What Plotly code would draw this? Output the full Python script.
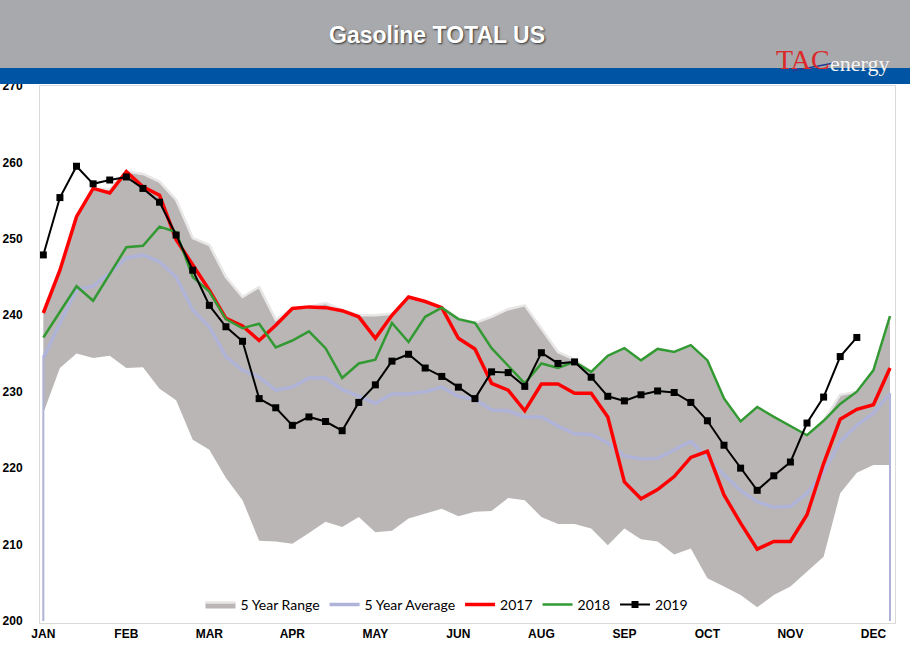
import plotly.graph_objects as go

# ---------------- data ----------------
weeks = list(range(52))
month_ticks = [0, 5, 10, 15, 20, 25, 30, 35, 40, 45, 50]
month_labels = ["JAN", "FEB", "MAR", "APR", "MAY", "JUN", "AUG", "SEP", "OCT", "NOV", "DEC"]
y_ticks = [200, 210, 220, 230, 240, 250, 260, 270]

range_low = [227.2, 233.1, 235.0, 234.4, 234.7, 233.1, 233.2, 230.4, 228.9, 223.7, 222.4, 218.7, 215.8,
             210.5, 210.4, 210.1, 211.5, 213.0, 212.3, 213.6, 211.6, 211.8, 213.4, 214.1, 214.7, 213.7,
             214.3, 214.4, 216.1, 215.8, 213.6, 212.7, 212.7, 212.1, 209.9, 212.1, 210.7, 210.4, 208.7,
             209.5, 205.6, 204.5, 203.4, 201.8, 203.4, 204.5, 206.5, 208.4, 216.7, 219.4, 220.4, 220.4]
range_high = [240.3, 245.9, 252.9, 256.6, 256.5, 258.8, 258.5, 257.5, 255.1, 250.1, 249.2, 245.0, 242.4,
              243.7, 239.4, 240.9, 241.1, 241.6, 240.7, 240.0, 240.0, 240.2, 242.4, 241.8, 241.1, 239.6,
              239.0, 239.8, 240.8, 241.3, 238.3, 235.2, 234.2, 232.6, 234.7, 235.7, 234.1, 235.6, 235.2,
              236.1, 234.1, 229.1, 226.1, 228.0, 226.7, 225.5, 224.3, 226.2, 229.6, 230.0, 232.8, 239.9]
avg5 = [234.4, 239.0, 243.3, 243.8, 245.5, 247.5, 247.9, 247.0, 245.0, 240.7, 238.5, 234.6, 232.8,
        231.9, 230.2, 230.6, 231.8, 231.8, 230.3, 229.4, 228.5, 229.7, 229.7, 230.0, 230.6, 229.4,
        229.0, 227.6, 227.5, 226.7, 226.7, 225.5, 224.5, 224.4, 223.3, 221.6, 221.2, 221.3, 222.4,
        223.5, 221.4, 219.1, 217.1, 215.6, 214.9, 215.0, 216.7, 219.5, 223.5, 225.6, 227.2, 229.8]
y2017 = [240.3, 245.9, 252.9, 256.6, 256.0, 258.8, 256.8, 255.7, 249.9, 246.6, 243.3, 239.6, 238.6,
         236.7, 238.7, 240.9, 241.1, 241.0, 240.6, 239.8, 237.0, 240.0, 242.4, 241.8, 241.0, 237.0,
         235.6, 231.1, 230.2, 227.5, 231.0, 231.0, 229.8, 229.8, 226.7, 218.2, 216.0, 217.2, 218.9,
         221.4, 222.2, 216.5, 212.8, 209.4, 210.4, 210.4, 213.9, 220.6, 226.4, 227.7, 228.3, 233.1]
y2018 = [237.1, 240.5, 243.8, 241.9, 245.4, 248.9, 249.1, 251.6, 250.9, 245.0, 243.1, 239.5, 238.3,
         238.9, 235.8, 236.7, 237.9, 235.7, 231.8, 233.7, 234.2, 239.0, 236.5, 239.8, 241.0, 239.5,
         239.0, 235.7, 233.4, 231.1, 233.7, 233.1, 233.9, 232.6, 234.7, 235.7, 234.1, 235.6, 235.2,
         236.1, 234.1, 229.1, 226.1, 228.0, 226.7, 225.5, 224.3, 226.2, 228.4, 230.0, 232.8, 239.9]
y2019 = [247.9, 255.4, 259.5, 257.2, 257.7, 258.1, 256.6, 254.8, 250.5, 245.9, 241.3, 238.5, 236.6,
         229.1, 227.9, 225.6, 226.7, 226.1, 224.9, 228.6, 230.9, 234.0, 234.9, 233.1, 232.0, 230.6,
         229.1, 232.6, 232.5, 230.7, 235.1, 233.7, 233.9, 231.9, 229.4, 228.8, 229.6, 230.1, 229.9,
         228.6, 226.2, 223.0, 220.0, 217.1, 219.0, 220.8, 225.9, 229.3, 234.6, 237.1]

# ---------------- figure ----------------
W, H = 910, 659
L, R, T, B = 40, 15, 86, 36
pw, ph = W - L - R, H - T - B


def px(x):
    return (x - L) / pw


def py(y):
    return 1 + (T - y) / ph


fig = go.Figure()

RANGE_FILL = "rgb(186,182,182)"
AVG_COLOR = "rgb(176,179,216)"

fig.add_trace(go.Scatter(x=weeks, y=range_low, mode="lines", line=dict(width=0, color=RANGE_FILL),
                         showlegend=False, hoverinfo="skip"))
fig.add_trace(go.Scatter(x=weeks, y=range_high, mode="lines", fill="tonexty", fillcolor=RANGE_FILL,
                         line=dict(width=2.5, color="rgb(232,230,230)"), name="5 Year Range"))
# edge lines of the average down to the axis
fig.add_trace(go.Scatter(x=[weeks[0], weeks[0], None, weeks[-1], weeks[-1]],
                         y=[y_ticks[0], avg5[0], None, y_ticks[0], avg5[-1]],
                         mode="lines", line=dict(width=2, color=AVG_COLOR),
                         showlegend=False, hoverinfo="skip"))
fig.add_trace(go.Scatter(x=weeks, y=avg5, mode="lines", line=dict(width=3.5, color=AVG_COLOR),
                         name="5 Year Average"))
fig.add_trace(go.Scatter(x=weeks, y=y2017, mode="lines", line=dict(width=3.5, color="#FF0000"),
                         name="2017"))
fig.add_trace(go.Scatter(x=weeks, y=y2018, mode="lines", line=dict(width=2.5, color="#339933"),
                         name="2018"))
fig.add_trace(go.Scatter(x=weeks[:len(y2019)], y=y2019, mode="lines+markers",
                         line=dict(width=2, color="#000000"),
                         marker=dict(symbol="square", size=7, color="#000000"), name="2019"))

fig.update_layout(
    width=W, height=H,
    margin=dict(l=L, r=R, t=T, b=B, pad=0, autoexpand=False),
    paper_bgcolor="white", plot_bgcolor="white",
    font=dict(family="Liberation Sans, Arial", color="#000000"),
    showlegend=True,
    legend=dict(orientation="h", x=px(447), y=py(605), xanchor="center", yanchor="middle",
                traceorder="normal",
                bgcolor="rgba(0,0,0,0)", font=dict(family="Lato", size=14, color="#000000"),
                itemwidth=30, tracegroupgap=0),
    xaxis=dict(range=[-0.2, 51.3], tickvals=month_ticks, ticktext=month_labels, automargin=False,
               showgrid=False, zeroline=False, showline=True, mirror=True, linecolor="#D9D9D9",
               linewidth=1, ticks="",
               tickfont=dict(family="Liberation Sans", size=12, color="#000000", weight="bold")),
    yaxis=dict(range=[199.74, 270], tickvals=y_ticks, showgrid=False, zeroline=False, automargin=False,
               showline=True, mirror=True, linecolor="#D9D9D9", linewidth=1, ticks="",
               ticklabelstandoff=14,
               tickfont=dict(family="Liberation Sans", size=12, color="#000000", weight="bold")),
    shapes=[
        dict(type="rect", xref="paper", yref="paper", x0=px(0), x1=px(W), y0=py(68), y1=py(0),
             fillcolor="rgb(167,169,172)", line=dict(width=0), layer="above"),
        dict(type="rect", xref="paper", yref="paper", x0=px(0), x1=px(W), y0=py(84), y1=py(68),
             fillcolor="rgb(0,84,164)", line=dict(width=0), layer="above"),
        dict(type="line", xref="paper", yref="paper", x0=px(792), x1=px(834), y0=py(71), y1=py(63),
             line=dict(width=1.5, color="rgb(30,60,150)"), layer="above"),
    ],
    annotations=[
        dict(text="<b>Gasoline TOTAL US</b>", xref="paper", yref="paper", x=px(437), y=py(35),
             xanchor="center", yanchor="middle", showarrow=False,
             font=dict(family="Liberation Sans", size=23, color="white",
                       shadow="1px 1px 2px rgba(0,0,0,0.7)")),
        dict(text="TAC", xref="paper", yref="paper", x=px(774), y=py(60),
             xanchor="left", yanchor="middle", showarrow=False,
             font=dict(family="Liberation Serif", size=28, color="rgb(220,40,40)")),
        dict(text="energy", xref="paper", yref="paper", x=px(828), y=py(64),
             xanchor="left", yanchor="middle", showarrow=False,
             font=dict(family="Liberation Serif", size=22, color="rgb(245,245,245)")),
    ],
)

fig.write_html("out.html")
